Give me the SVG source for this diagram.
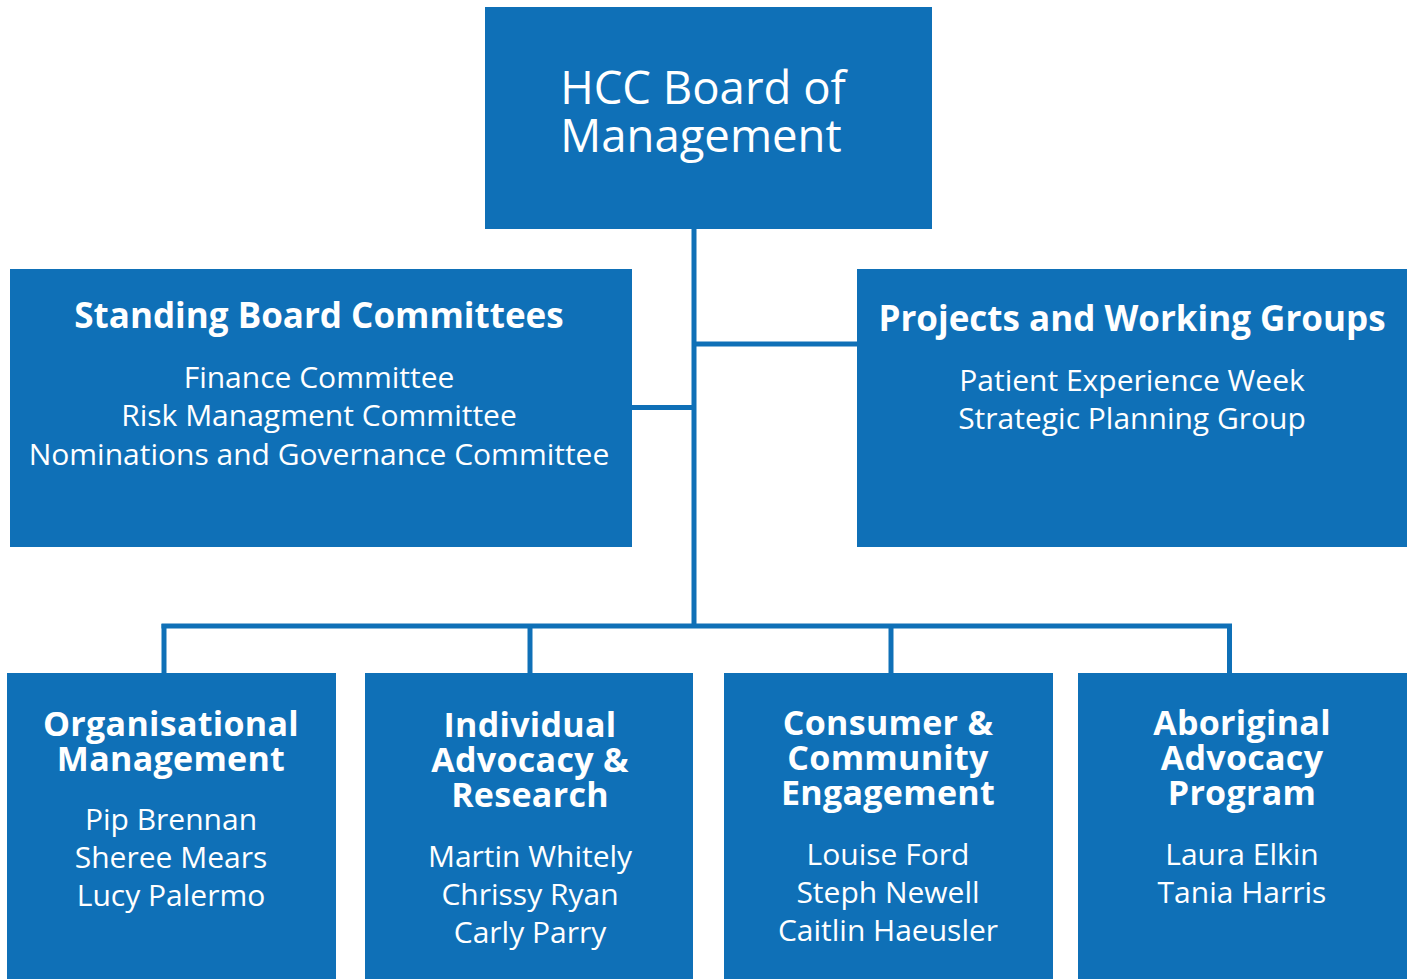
<svg xmlns="http://www.w3.org/2000/svg" width="1412" height="979" viewBox="0 0 1412 979">
<style>
.box{fill:#0F70B7}
.ln{stroke:#0F70B7;stroke-width:5;fill:none}
text{fill:#fff;font-family:"Open Sans","Noto Sans","Liberation Sans",sans-serif;text-anchor:middle}
.t{font-size:45.5px}
.h{font-size:35px;font-weight:700}
.hb{font-size:34px;font-weight:700;letter-spacing:0.3px}
.b{font-size:30px}
</style>
<rect x="0" y="0" width="1412" height="979" fill="#fff"/>
<g id="connectors">
<line class="ln" x1="694" y1="229" x2="694" y2="628"/>
<line class="ln" x1="694" y1="344" x2="857" y2="344"/>
<line class="ln" x1="632" y1="407.5" x2="694" y2="407.5"/>
<line class="ln" x1="161.5" y1="626" x2="1232" y2="626"/>
<line class="ln" x1="164" y1="624" x2="164" y2="673" stroke-width="4.5"/>
<line class="ln" x1="530" y1="624" x2="530" y2="673" stroke-width="4.5"/>
<line class="ln" x1="891" y1="624" x2="891" y2="673" stroke-width="4.5"/>
<line class="ln" x1="1229.5" y1="624" x2="1229.5" y2="673" stroke-width="4.5"/>
</g>
<g id="board">
<rect class="box" x="485" y="7" width="447" height="222"/>
<text class="t" x="703" y="104">HCC Board of</text>
<text class="t" x="701" y="152">Management</text>
</g>
<g id="standing">
<rect class="box" x="10" y="269" width="622" height="278"/>
<text class="h" x="319" y="328">Standing Board Committees</text>
<text class="b" x="319" y="388">Finance Committee</text>
<text class="b" x="319" y="426">Risk Managment Committee</text>
<text class="b" x="319" y="465">Nominations and Governance Committee</text>
</g>
<g id="projects">
<rect class="box" x="857" y="269" width="550" height="278"/>
<text class="h" x="1132" y="331">Projects and Working Groups</text>
<text class="b" x="1132" y="391">Patient Experience Week</text>
<text class="b" x="1132" y="429">Strategic Planning Group</text>
</g>
<g id="orgmgmt">
<rect class="box" x="7" y="673" width="329" height="306"/>
<text class="hb" x="171" y="736">Organisational</text>
<text class="hb" x="171" y="771">Management</text>
<text class="b" x="171" y="830">Pip Brennan</text>
<text class="b" x="171" y="868">Sheree Mears</text>
<text class="b" x="171" y="906">Lucy Palermo</text>
</g>
<g id="advocacy">
<rect class="box" x="365" y="673" width="328" height="306"/>
<text class="hb" x="530" y="737">Individual</text>
<text class="hb" x="530" y="772">Advocacy &amp;</text>
<text class="hb" x="530" y="807">Research</text>
<text class="b" x="530" y="867">Martin Whitely</text>
<text class="b" x="530" y="905">Chrissy Ryan</text>
<text class="b" x="530" y="943">Carly Parry</text>
</g>
<g id="consumer">
<rect class="box" x="724" y="673" width="329" height="306"/>
<text class="hb" x="888" y="735">Consumer &amp;</text>
<text class="hb" x="888" y="770">Community</text>
<text class="hb" x="888" y="805">Engagement</text>
<text class="b" x="888" y="865">Louise Ford</text>
<text class="b" x="888" y="903">Steph Newell</text>
<text class="b" x="888" y="941">Caitlin Haeusler</text>
</g>
<g id="aboriginal">
<rect class="box" x="1078" y="673" width="329" height="306"/>
<text class="hb" x="1242" y="735">Aboriginal</text>
<text class="hb" x="1242" y="770">Advocacy</text>
<text class="hb" x="1242" y="805">Program</text>
<text class="b" x="1242" y="865">Laura Elkin</text>
<text class="b" x="1242" y="903">Tania Harris</text>
</g>
</svg>
